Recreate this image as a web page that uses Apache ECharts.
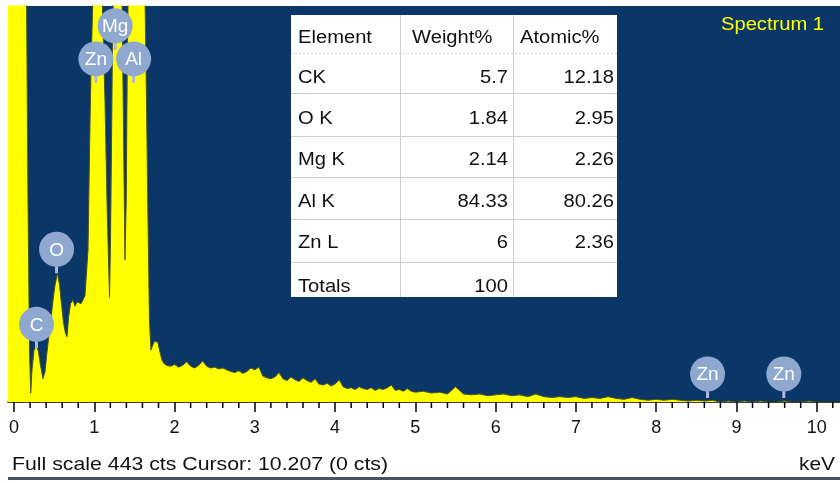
<!DOCTYPE html>
<html>
<head>
<meta charset="utf-8">
<title>EDS Spectrum 1</title>
<script src="https://cdn.jsdelivr.net/npm/echarts@6/dist/echarts.min.js"></script>
<style>
  html, body { margin: 0; padding: 0; background: #ffffff; }
  #chart { width: 840px; height: 483px; }
</style>
</head>
<body>
<div id="chart"></div>
<script>
// ---- spectrum: channel energy (keV) and counts ----
const energyKeV = [
  -0.075, 0.03, 0.12, 0.156, 0.174, 0.193, 0.208, 0.224, 0.249, 0.280,
  0.305, 0.330, 0.361, 0.386, 0.411, 0.436, 0.461, 0.486, 0.511, 0.542,
  0.567, 0.592, 0.616, 0.641, 0.660, 0.679, 0.704, 0.735, 0.760, 0.785,
  0.809, 0.834, 0.859, 0.884, 0.922, 0.941, 0.959, 0.984, 1.009, 1.052,
  1.096, 1.133, 1.158, 1.177, 1.190, 1.202, 1.214, 1.227, 1.239, 1.289,
  1.345, 1.364, 1.382, 1.398, 1.411, 1.423, 1.526, 1.631, 1.650, 1.669,
  1.687, 1.706, 1.725, 1.743, 1.768, 1.793, 1.818, 1.843, 1.868,
  1.90, 1.95, 2.00, 2.05, 2.10, 2.15, 2.20, 2.25, 2.30, 2.35,
  2.40, 2.45, 2.50, 2.55, 2.60, 2.65, 2.70, 2.75, 2.80, 2.85,
  2.90, 2.95, 3.00, 3.05, 3.10, 3.15, 3.20, 3.25, 3.30, 3.35,
  3.40, 3.45, 3.50, 3.55, 3.60, 3.65, 3.70, 3.75, 3.80, 3.85,
  3.90, 3.95, 4.00, 4.05, 4.10, 4.15, 4.20, 4.25, 4.30, 4.35,
  4.40, 4.45, 4.50, 4.55, 4.60, 4.65, 4.70, 4.75, 4.80, 4.85,
  4.90, 4.95, 5.0, 5.1, 5.2, 5.3, 5.4, 5.5, 5.6, 5.7,
  5.8, 5.9, 6.0, 6.1, 6.2, 6.3, 6.4, 6.5, 6.6, 6.7,
  6.8, 6.9, 7.0, 7.1, 7.2, 7.3, 7.4, 7.5, 7.6, 7.7,
  7.8, 7.9, 8.0, 8.1, 8.2, 8.3, 8.4, 8.5, 8.6, 8.7,
  8.8, 8.9, 9.0, 9.1, 9.2, 9.3, 9.4, 9.5, 9.6, 9.7,
  9.8, 9.9, 10.0, 10.1, 10.2, 10.29
];
const counts = [
  1500, 2800, 900, 450, 226, 58, 10, 36, 58, 63,
  56, 41, 26, 34, 56, 75, 94, 114, 131, 144,
  131, 109, 89, 77, 73, 94, 110, 114, 107, 112,
  114, 110, 114, 119, 170, 282, 371, 460, 900, 1800,
  460, 338, 226, 159, 117, 181, 282, 405, 460, 1500,
  460, 304, 159, 226, 383, 460, 3900, 460, 338, 204,
  92, 58, 58, 67, 68, 66, 56, 47, 43,
  41, 40, 42, 39, 41, 45, 40, 38, 41, 46,
  40, 38, 39, 37, 38, 36, 34, 33, 35, 32,
  34, 38, 36, 39, 29, 27, 26, 28, 33, 26,
  24, 28, 25, 23, 27, 24, 22, 26, 20, 19,
  21, 18, 20, 25, 17, 15, 16, 14, 17, 15,
  14, 16, 13, 15, 14, 16, 19, 13, 14, 12,
  15, 12, 11, 12, 10, 11, 9, 17, 9, 8,
  9, 7, 8, 9, 7, 8, 6, 9, 6, 5,
  6, 5, 6, 4, 5, 4, 6, 4, 3, 5,
  3, 2, 3, 2, 3, 2, 1, 2, 1, 2,
  0, 1, 0, 1, 0, 1, 0, 0, 1, 0,
  0, 1, 0, 0, 0, 0
];
const fullScaleCounts = 443;

// ---- energy axis ticks (keV) ----
const majorTicks = [0, 1, 2, 3, 4, 5, 6, 7, 8, 9, 10];
const minorStep = 0.2;

// ---- identified lines ----
const lineNames = ['C', 'O', 'Zn', 'Mg', 'Al', 'Zn', 'Zn'];
const lineEnergies = [0.28, 0.53, 1.02, 1.26, 1.49, 8.64, 9.59];
const lineMarkerCounts = [60, 144, 357, 394, 357, 4.5, 4.5];

// ---- quantification table ----
const tableHeader = ['Element', 'Weight%', 'Atomic%'];
const tableElements = ['CK', 'O K', 'Mg K', 'Al K', 'Zn L', 'Totals'];
const weightPct = [5.7, 1.84, 2.14, 84.33, 6, 100];
const atomicPct = [12.18, 2.95, 2.26, 80.26, 2.36, null];

// ---- texts ----
const spectrumTitle = 'Spectrum 1';
const statusText = 'Full scale ' + fullScaleCounts + ' cts Cursor: 10.207 (0 cts)';
const unitText = 'keV';

const FONT = '"Liberation Sans", Arial, Helvetica, sans-serif';
const X_MIN = -0.075, X_MAX = 10.29;

const minorTicks = [];
for (let i = 0; i * minorStep <= 10.2 + 1e-9; i++) {
  const v = +(i * minorStep).toFixed(1);
  if (majorTicks.indexOf(v) < 0) minorTicks.push(v);
}

const spectrum = energyKeV.map((e, i) => [e, counts[i]]);

// table layout
const tbl = { x: 291, y: 15, w: 326, h: 282 };
const rowLines = [53, 93, 136, 177, 219, 262];
const colLines = [400, 513];
const rowCenters = [38, 78, 119, 160, 202, 243, 287];
const tableFont = '18px ' + FONT;
const tableScale = 1.12;

function txt(str, x, y, align, font, fill, sx) {
  return {
    type: 'text', x: x, y: y, scaleX: sx || 1, silent: true, z: 20,
    style: { text: str, font: font, fill: fill, align: align, verticalAlign: 'middle' }
  };
}

const graphics = [];
graphics.push({ type: 'rect', shape: { x: tbl.x, y: tbl.y, width: tbl.w, height: tbl.h },
  style: { fill: '#ffffff' }, z: 10, silent: true });
rowLines.forEach((y, i) => {
  graphics.push({ type: 'line', shape: { x1: tbl.x, y1: y + 0.5, x2: tbl.x + tbl.w, y2: y + 0.5 },
    style: { stroke: '#cfcfcf', lineWidth: 1, lineDash: i === 0 ? [2, 2] : null }, z: 11, silent: true });
});
colLines.forEach(x => {
  graphics.push({ type: 'line', shape: { x1: x + 0.5, y1: tbl.y, x2: x + 0.5, y2: tbl.y + tbl.h },
    style: { stroke: '#cfcfcf', lineWidth: 1 }, z: 11, silent: true });
});
graphics.push(txt(tableHeader[0], 298, rowCenters[0], 'left', tableFont, '#111', tableScale));
graphics.push(txt(tableHeader[1], 412, rowCenters[0], 'left', tableFont, '#111', tableScale));
graphics.push(txt(tableHeader[2], 520, rowCenters[0], 'left', tableFont, '#111', tableScale));
tableElements.forEach((el, i) => {
  const cy = rowCenters[i + 1];
  graphics.push(txt(el, 298, cy, 'left', tableFont, '#111', tableScale));
  graphics.push(txt(String(weightPct[i]), 508, cy, 'right', tableFont, '#111', tableScale));
  if (atomicPct[i] !== null) graphics.push(txt(String(atomicPct[i]), 614, cy, 'right', tableFont, '#111', tableScale));
});
graphics.push(txt(spectrumTitle, 721, 25, 'left', '18px ' + FONT, '#ffff00', 1.12));
graphics.push(txt(statusText, 12, 465, 'left', '19px ' + FONT, '#111', 1.12));
graphics.push(txt(unitText, 835, 465, 'right', '19px ' + FONT, '#111', 1.1));
graphics.push({ type: 'rect', shape: { x: 8, y: 477, width: 832, height: 3 },
  style: { fill: '#4a5366' }, silent: true });

const chart = echarts.init(document.getElementById('chart'), null, { renderer: 'canvas' });
chart.setOption({
  animation: false,
  backgroundColor: '#ffffff',
  grid: { left: 8, right: 0, top: 6, bottom: 81, show: true,
          backgroundColor: '#0b3768', borderWidth: 0, containLabel: false },
  xAxis: {
    type: 'value', min: X_MIN, max: X_MAX,
    axisLine: { show: true, onZero: false, lineStyle: { color: '#000', width: 1.5 } },
    axisTick: { show: true, customValues: majorTicks, length: 10, lineStyle: { color: '#000', width: 1.5 } },
    axisLabel: { customValues: majorTicks, fontSize: 18, color: '#111', margin: 17, fontFamily: FONT },
    splitLine: { show: false }
  },
  yAxis: {
    type: 'value', min: 0, max: fullScaleCounts, show: false, splitLine: { show: false }
  },
  series: [
    {
      type: 'line', data: spectrum, showSymbol: false, symbol: 'none',
      lineStyle: { color: '#4a5420', width: 1 },
      areaStyle: { color: '#ffff00', opacity: 1 },
      clip: true, z: 2
    },
    {
      // minor ticks on the energy axis
      type: 'custom', clip: false, z: 3, silent: true,
      data: minorTicks.map(v => [v, 0]),
      renderItem(params, api) {
        const p = api.coord([api.value(0), 0]);
        return { type: 'line', shape: { x1: p[0], y1: p[1], x2: p[0], y2: p[1] + 6 },
                 style: { stroke: '#000', lineWidth: 1.5 } };
      }
    },
    {
      // element line markers
      type: 'custom', clip: false, z: 5, silent: true,
      data: lineEnergies.map((e, i) => [e, lineMarkerCounts[i]]),
      renderItem(params, api) {
        const p = api.coord([api.value(0), api.value(1)]);
        const r = 17.5;
        const cy = p[1] - 24;
        return {
          type: 'group',
          children: [
            { type: 'rect', shape: { x: p[0] - 1.5, y: cy + r - 2, width: 3, height: p[1] - (cy + r - 2) },
              style: { fill: '#b3b5de' } },
            { type: 'circle', shape: { cx: p[0], cy: cy, r: r }, style: { fill: '#8fa8d0' } },
            { type: 'text', x: p[0], y: cy + 1,
              style: { text: lineNames[params.dataIndex], font: '19px ' + FONT, fill: '#ffffff',
                       align: 'center', verticalAlign: 'middle' } }
          ]
        };
      }
    }
  ],
  graphic: { elements: graphics }
});
</script>
</body>
</html>
